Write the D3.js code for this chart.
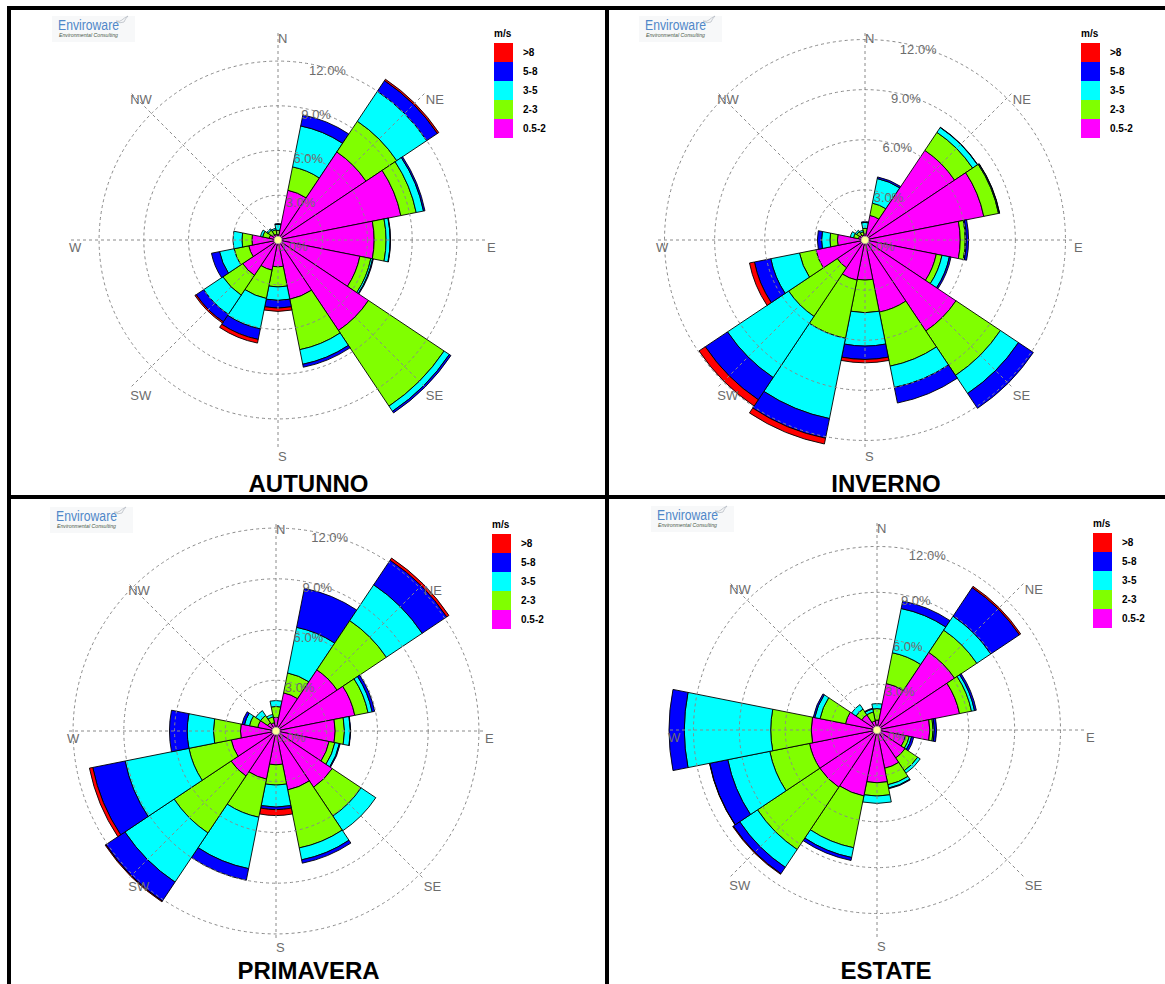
<!DOCTYPE html>
<html><head><meta charset="utf-8">
<script src="https://cdn.jsdelivr.net/npm/d3@7"></script>
<style>body{margin:0;background:#fff} svg{display:block}</style>
</head><body>
<svg id="chart" width="1165" height="984"></svg>
<script>
// ---------------- DATA ----------------
const directions = ["N","NNE","NE","ENE","E","ESE","SE","SSE","S","SSW","SW","WSW","W","WNW","NW","NNW"];
const compassLabels = ["N","NE","E","SE","S","SW","W","NW"];
const speedClasses = ["0.5-2","2-3","3-5","5-8",">8"];
const legendOrder = [">8","5-8","3-5","2-3","0.5-2"];
const ringTicks = [3, 6, 9, 12];
const ringLabels = ["3.0%","6.0%","9.0%","12.0%"];
const zeroLabel = "0.0%";
const seasons = ["AUTUNNO","INVERNO","PRIMAVERA","ESTATE"];
const unitLabel = "m/s";

// AUTUNNO (% frequency per direction, per speed class)
const autunno_0_5_2 = [0.35,3.4,7.1,8.4,6.45,5.6,7.3,4.05,1.8,2.06,2.85,2.0,1.75,0.6,0.45,0.4];
const autunno_2_3   = [0.3,1.6,2.48,1.05,0.8,0.75,6.1,3.45,1.35,1.94,1.6,1.0,0.67,0.45,0.35,0.3];
const autunno_3_5   = [0.4,2.8,2.42,0.5,0.27,0.12,0.42,1.0,0.9,2.08,1.55,1.0,0.6,0.15,0.1,0.1];
const autunno_5_8   = [0.05,0.75,0.86,0.1,0.03,0.05,0.13,0.2,0.52,0.72,0.6,0.55,0,0,0,0];
const autunno_gt8   = [0,0,0.11,0,0,0,0,0,0.22,0.25,0.1,0,0,0,0,0];

// INVERNO
const inverno_0_5_2 = [0.4,1.5,6.45,7.25,5.7,4.35,6.55,4.4,2.4,2.45,2.0,3.0,1.65,0.4,0.35,0.3];
const inverno_2_3   = [0.3,0.75,1.3,0.9,0.3,0.35,3.2,3.3,1.95,3.55,3.5,1.0,0.45,0.3,0.25,0.2];
const inverno_3_5   = [0.35,1.5,0.35,0.05,0.06,0.45,1.3,1.3,2.0,4.9,4.4,1.75,0.5,0.2,0.1,0.1];
const inverno_5_8   = [0.05,0.1,0.02,0.02,0.14,0.1,1.07,0.95,0.8,1.2,1.6,1.0,0.25,0,0,0];
const inverno_gt8   = [0,0,0,0,0,0,0,0,0.2,0.35,0.45,0.3,0,0,0,0];

// PRIMAVERA
const primavera_0_5_2 = [0.8,2.3,4.35,4.75,3.5,3.2,4.0,3.55,2.0,2.9,3.2,2.7,2.1,1.1,0.6,0.5];
const primavera_2_3   = [0.65,1.2,3.5,0.8,0.55,0.35,2.05,3.5,1.2,2.3,4.05,2.55,1.6,0.5,0.5,0.35];
const primavera_3_5   = [0.35,2.75,2.55,0.25,0.35,0.27,1.05,0.72,1.3,3.1,3.5,3.85,1.55,0.3,0.35,0.15];
const primavera_5_8   = [0,2.35,1.75,0.15,0.02,0.05,0,0.2,0.15,0.7,1.35,1.95,1.05,0.15,0,0];
const primavera_gt8   = [0,0,0.15,0,0,0,0,0,0.35,0,0.05,0.2,0,0,0,0];

// ESTATE
const estate_0_5_2 = [0.65,3.1,6.1,5.5,3.45,1.9,2.2,2.55,3.45,4.4,4.5,4.5,4.3,2.1,1.2,0.6];
const estate_2_3   = [0.75,2.05,1.75,0.8,0.22,0.25,1.0,1.1,0.87,3.45,4.9,2.65,2.65,1.7,0.45,0.6];
const estate_3_5   = [0.33,2.95,1.1,0.2,0.08,0.15,0.2,0.22,0.48,0.65,1.4,2.8,5.65,0.35,0.35,0.2];
const estate_5_8   = [0,0.5,2.25,0.12,0.15,0.15,0,0.05,0,0.2,0.5,1.2,1.0,0.1,0,0.05];
const estate_gt8   = [0,0,0.1,0,0,0,0,0,0,0,0.05,0.02,0,0,0,0];

// ---------------- STYLE / LAYOUT ----------------
const classColors = {"0.5-2":"#ff00ff","2-3":"#80ff00","3-5":"#00ffff","5-8":"#0000ff",">8":"#ff0000"};
const panels = [
  {title: seasons[0], cx: 278, cy: 240, cell: [10, 8, 607, 497], titleY: 492,
   series: [autunno_0_5_2, autunno_2_3, autunno_3_5, autunno_5_8, autunno_gt8]},
  {title: seasons[1], cx: 865, cy: 240, cell: [607, 8, 1165, 497], titleY: 492,
   series: [inverno_0_5_2, inverno_2_3, inverno_3_5, inverno_5_8, inverno_gt8]},
  {title: seasons[2], cx: 276, cy: 731, cell: [10, 497, 607, 984], titleY: 979,
   series: [primavera_0_5_2, primavera_2_3, primavera_3_5, primavera_5_8, primavera_gt8]},
  {title: seasons[3], cx: 877, cy: 730, cell: [607, 497, 1165, 984], titleY: 979,
   series: [estate_0_5_2, estate_2_3, estate_3_5, estate_5_8, estate_gt8]}
];
const MAX_R = 208;      // radius reached by the longest petal
const LABEL_R = 209;    // radius of compass labels / axis lines
const GRID = "#8a8a8a";
const TXT = "#6c6c6c";

const svg = d3.select("#chart");
svg.append("rect").attr("width",1165).attr("height",984).attr("fill","#fff");

const toRad = d => d * Math.PI / 180;
const sector = 360 / directions.length;

panels.forEach(p => {
  const g = svg.append("g").attr("transform", `translate(${p.cx},${p.cy})`);
  const totals = directions.map((d, i) => d3.sum(p.series, s => s[i]));
  const r = d3.scaleLinear().domain([0, d3.max(totals)]).range([0, MAX_R]);
  const angle = d3.scaleBand().domain(directions).range([-sector/2, 360 - sector/2]);

  // petals
  const segs = [];
  directions.forEach((dir, i) => {
    let cum = 0;
    p.series.forEach((s, k) => {
      const v = s[i];
      if (v > 0) segs.push({dir, cls: speedClasses[k], r0: cum, r1: cum + v});
      cum += v;
    });
  });
  const arc = d3.arc()
    .innerRadius(d => r(d.r0)).outerRadius(d => r(d.r1))
    .startAngle(d => toRad(angle(d.dir)))
    .endAngle(d => toRad(angle(d.dir) + angle.bandwidth()));
  g.selectAll("path.petal").data(segs).join("path")
    .attr("class","petal").attr("d", arc)
    .attr("fill", d => classColors[d.cls])
    .attr("stroke","#000").attr("stroke-width",0.9).attr("stroke-linejoin","miter");

  // grid on top
  g.selectAll("circle.ring").data(ringTicks).join("circle")
    .attr("class","ring").attr("r", d => r(d))
    .attr("fill","none").attr("stroke",GRID).attr("stroke-width",1).attr("stroke-dasharray","3,3");
  const compassAngle = d3.scalePoint().domain(compassLabels).range([0, 315]);
  g.selectAll("line.axis").data(compassLabels).join("line")
    .attr("class","axis")
    .attr("x1",0).attr("y1",0)
    .attr("x2", d => LABEL_R * Math.sin(toRad(compassAngle(d))))
    .attr("y2", d => -LABEL_R * Math.cos(toRad(compassAngle(d))))
    .attr("stroke",GRID).attr("stroke-width",1).attr("stroke-dasharray","3,3");

  // compass labels
  g.selectAll("text.dir").data(compassLabels).join("text")
    .attr("class","dir")
    .attr("x", d => LABEL_R * Math.sin(toRad(compassAngle(d))))
    .attr("y", d => -LABEL_R * Math.cos(toRad(compassAngle(d))) + 12)
    .attr("font-family","Liberation Sans, Arial, sans-serif").attr("font-size",13)
    .attr("fill",TXT).text(d => d);

  // ring labels
  const la = toRad(10);
  g.selectAll("text.rl").data(ringTicks).join("text")
    .attr("class","rl")
    .attr("x", d => r(d) * Math.sin(la))
    .attr("y", d => -r(d) * Math.cos(la) + 11)
    .attr("font-family","Liberation Sans, Arial, sans-serif").attr("font-size",13)
    .attr("fill",TXT).text((d, i) => ringLabels[i]);
  g.append("text").attr("x",0).attr("y",11)
    .attr("font-family","Liberation Sans, Arial, sans-serif").attr("font-size",13)
    .attr("fill",TXT).text(zeroLabel);

  // calm dot
  g.append("circle").attr("r",3.8).attr("fill","#ffff99").attr("stroke","#b0b0a0").attr("stroke-width",0.8);

  // legend
  const lg = g.append("g").attr("transform","translate(216,-197)");
  lg.append("text").attr("x",0).attr("y",-6).attr("font-family","Liberation Sans Narrow, Liberation Sans, Arial, sans-serif")
    .attr("font-weight","bold").attr("font-size",10).attr("fill","#000").text(unitLabel);
  legendOrder.forEach((c, i) => {
    lg.append("rect").attr("x",0).attr("y",i*19).attr("width",19).attr("height",19).attr("fill",classColors[c]);
    lg.append("text").attr("x",29).attr("y",i*19+13).attr("font-family","Liberation Sans Narrow, Liberation Sans, Arial, sans-serif")
      .attr("font-weight","bold").attr("font-size",10).attr("fill","#000").text(c);
  });

  // logo
  const logo = g.append("g").attr("transform","translate(-220,-210)");
  logo.append("rect").attr("x",-6).attr("y",-14).attr("width",83).attr("height",26).attr("fill","#f7f8f9");
  logo.append("text").attr("x",0).attr("y",0).attr("font-family","Liberation Sans, Arial, sans-serif")
    .attr("font-size",14).attr("fill","#4f87c8").attr("textLength",61).attr("lengthAdjust","spacingAndGlyphs").text("Enviroware");
  logo.append("text").attr("x",1).attr("y",7).attr("font-family","Liberation Sans, Arial, sans-serif")
    .attr("font-size",5.5).attr("font-style","italic").attr("fill","#4a5a4a").attr("textLength",59).attr("lengthAdjust","spacingAndGlyphs").text("Environmental Consulting");
  logo.append("path").attr("d","M58,-9 Q62,-8 64,-10 Q66,-12 70,-14 Q67,-11 66,-8 Q62,-6 58,-9Z")
    .attr("fill","none").attr("stroke","#b8bcc4").attr("stroke-width",0.8);

  // title
  svg.append("text").attr("x",(p.cell[0]+p.cell[2])/2).attr("y",p.titleY)
    .attr("text-anchor","middle").attr("font-family","Liberation Sans, Arial, sans-serif")
    .attr("font-weight","bold").attr("font-size",24).attr("fill","#000").text(p.title);
});

// frame
const frame = svg.append("g").attr("stroke","#000").attr("stroke-width",4);
frame.append("line").attr("x1",7).attr("x2",1165).attr("y1",8).attr("y2",8);
frame.append("line").attr("x1",9).attr("x2",9).attr("y1",6).attr("y2",984);
frame.append("line").attr("x1",607).attr("x2",607).attr("y1",6).attr("y2",984);
frame.append("line").attr("x1",7).attr("x2",1165).attr("y1",497).attr("y2",497);
</script>
</body></html>
